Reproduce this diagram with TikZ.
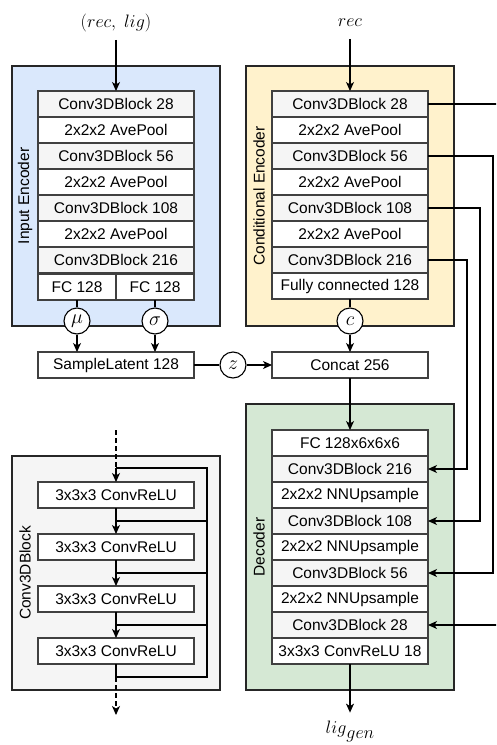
\RequirePackage{fix-cm}
\documentclass[tikz,border=0pt]{standalone}
\usepackage{fontspec}
\setmainfont{Liberation Sans}
\usetikzlibrary{arrows.meta,positioning}

\definecolor{encblue}{HTML}{DAE8FC}
\definecolor{condyellow}{HTML}{FFF2CC}
\definecolor{decgreen}{HTML}{D5E8D4}
\definecolor{blockgray}{HTML}{F5F5F5}

\begin{document}
\begin{tikzpicture}
[x=1pt,y=-1pt,>={Stealth[length=9pt,width=8pt,inset=2.5pt]},line width=1.1pt,
 group/.style={draw=black!85,line width=1.2pt,minimum width=208,inner sep=0,outer sep=0},
 layer/.style={draw=black!75,fill=white,minimum width=156,minimum height=26,inner sep=0,outer sep=0,font=\fontsize{15.5}{18}\selectfont},
 half/.style={layer,minimum width=78},
 block/.style={layer,fill=blockgray},
 var/.style={draw,circle,fill=white,minimum size=26,inner sep=0,font=\fontsize{20}{22}\selectfont},
 grouplabel/.style={rotate=90,font=\fontsize{15.5}{18}\selectfont},
 io/.style={font=\fontsize{18}{20}\selectfont},]

\clip (0,0) rectangle (496,745);

%Group boxes
\node (enc) at (116,196)[group,fill=encblue,minimum height=260] {};
\node (cond) at (350,196)[group,fill=condyellow,minimum height=260] {};
\node (dec) at (350,547)[group,fill=decgreen,minimum height=286] {};
\node (cblk) at (116,573)[group,fill=blockgray,minimum height=234] {};

\node at (25,196)[grouplabel] {Input Encoder};
\node at (259,196)[grouplabel] {Conditional Encoder};
\node at (259,547)[grouplabel] {Decoder};
\node at (25,573)[grouplabel] {Conv3DBlock};

%Input encoder
\node (e28) at (116,104)[block] {Conv3DBlock 28};
\node (ep1) [layer,below=0pt of e28] {2x2x2 AvePool};
\node (e56) [block,below=0pt of ep1] {Conv3DBlock 56};
\node (ep2) [layer,below=0pt of e56] {2x2x2 AvePool};
\node (e108) [block,below=0pt of ep2] {Conv3DBlock 108};
\node (ep3) [layer,below=0pt of e108] {2x2x2 AvePool};
\node (e216) [block,below=0pt of ep3] {Conv3DBlock 216};
\node (fcmu) at (77,287)[half] {FC 128};
\node (fcsig) at (155,287)[half] {FC 128};

%Conditional encoder
\node (c28) at (350,104)[block] {Conv3DBlock 28};
\node (cp1) [layer,below=0pt of c28] {2x2x2 AvePool};
\node (c56) [block,below=0pt of cp1] {Conv3DBlock 56};
\node (cp2) [layer,below=0pt of c56] {2x2x2 AvePool};
\node (c108) [block,below=0pt of cp2] {Conv3DBlock 108};
\node (cp3) [layer,below=0pt of c108] {2x2x2 AvePool};
\node (c216) [block,below=0pt of cp3] {Conv3DBlock 216};
\node (cfc) [layer,below=0pt of c216] {Fully connected 128};

%Latent part
\node (mu) at (77,321)[var] {$\mu$};
\node (sig) at (155,321)[var] {$\sigma$};
\node (c) at (350,321)[var] {$c$};
\node (sl) at (116,365)[layer] {SampleLatent 128};
\node (z) at (233,365)[var] {$z$};
\node (cat) at (350,365)[layer] {Concat 256};

%Decoder
\node (dfc) at (350,443)[layer] {FC 128x6x6x6};
\node (d216) [block,below=0pt of dfc] {Conv3DBlock 216};
\node (du1) [layer,below=0pt of d216] {2x2x2 NNUpsample};
\node (d108) [block,below=0pt of du1] {Conv3DBlock 108};
\node (du2) [layer,below=0pt of d108] {2x2x2 NNUpsample};
\node (d56) [block,below=0pt of du2] {Conv3DBlock 56};
\node (du3) [layer,below=0pt of d56] {2x2x2 NNUpsample};
\node (d28) [block,below=0pt of du3] {Conv3DBlock 28};
\node (d18) [layer,below=0pt of d28] {3x3x3 ConvReLU 18};

%Inputs and output
\node (inlab) at (116,23)[io] {$(rec,\ lig)$};
\node (reclab) at (350,23)[io] {$rec$};
\node (outlab) at (350,731)[io] {$lig\raisebox{-5pt}{$gen$}$};

\draw[->,shorten <=4pt] (inlab) -- (e28);
\draw[->,shorten <=8pt] (reclab) -- (c28);
\draw[->,shorten >=4pt] (d18) -- (outlab);

\draw (fcmu) -- (mu);
\draw (fcsig) -- (sig);
\draw (cfc) -- (c);
\draw[->] (mu) -- (mu |- sl.north);
\draw[->] (sig) -- (sig |- sl.north);
\draw[->] (c) -- (cat);
\draw (sl) -- (z);
\draw[->] (z) -- (cat);
\draw[->] (cat) -- (dfc);

%Skip connections
\draw[->] (c28.east) -- ++(72,0) |- (d28.east);
\draw[->] (c56.east) -- ++(65,0) |- (d56.east);
\draw[->] (c108.east) -- ++(52,0) |- (d108.east);
\draw[->] (c216.east) -- ++(39,0) |- (d216.east);

%Conv3DBlock detail
\node (r1) at (116,495)[layer] {3x3x3 ConvReLU};
\node (r2) at (116,547)[layer] {3x3x3 ConvReLU};
\node (r3) at (116,599)[layer] {3x3x3 ConvReLU};
\node (r4) at (116,651)[layer] {3x3x3 ConvReLU};

\coordinate (bin) at (116,430);
\coordinate (j1) at (116,468);
\coordinate (j5) at (116,677);
\coordinate (bout) at (116,715);

\draw[dash pattern=on 5pt off 3pt] (bin) -- (j1);
\draw[->] (j1) -- (r1);
\draw[->] (r1) -- coordinate (j2) (r2);
\draw[->] (r2) -- coordinate (j3) (r3);
\draw[->] (r3) -- coordinate (j4) (r4);
\draw (r4) -- (j5);
\draw[->,dash pattern=on 5pt off 3pt] (j5) -- (bout);
\draw (j1) -- ++(91,0) |- (j5);
\draw (j2) -- ++(91,0);
\draw (j3) -- ++(91,0);
\draw (j4) -- ++(91,0);
\end{tikzpicture}
\end{document}
